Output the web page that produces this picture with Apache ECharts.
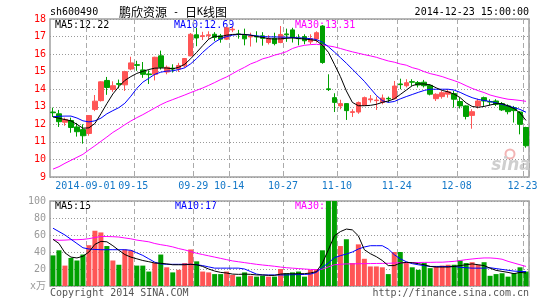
<!DOCTYPE html>
<html><head><meta charset="utf-8">
<script src="https://cdn.jsdelivr.net/npm/echarts@6/dist/echarts.min.js"></script>
<style>html,body{margin:0;padding:0;background:#fff}#c{width:545px;height:300px}</style>
</head><body><div id="c"></div>
<script>
const dates = ['2014-08-22','2014-08-25','2014-08-26','2014-08-27','2014-08-28','2014-08-29',
'2014-09-01','2014-09-02','2014-09-03','2014-09-04','2014-09-05','2014-09-09','2014-09-10','2014-09-11',
'2014-09-15','2014-09-16','2014-09-17','2014-09-18','2014-09-19','2014-09-22','2014-09-23','2014-09-24','2014-09-25','2014-09-26',
'2014-09-29','2014-09-30','2014-10-08','2014-10-09','2014-10-10','2014-10-13',
'2014-10-14','2014-10-15','2014-10-16','2014-10-17','2014-10-20','2014-10-21','2014-10-22','2014-10-23','2014-10-24',
'2014-10-27','2014-10-28','2014-10-29','2014-10-30','2014-10-31','2014-11-03','2014-11-04','2014-11-05','2014-11-07',
'2014-11-10','2014-11-11','2014-11-12','2014-11-13','2014-11-14','2014-11-17','2014-11-18','2014-11-19','2014-11-20','2014-11-21',
'2014-11-24','2014-11-25','2014-11-26','2014-11-27','2014-11-28','2014-12-01','2014-12-02','2014-12-03','2014-12-04','2014-12-05',
'2014-12-08','2014-12-09','2014-12-10','2014-12-11','2014-12-12','2014-12-15','2014-12-16','2014-12-17','2014-12-18','2014-12-19','2014-12-22',
'2014-12-23'];
const tickIndex = [6,14,24,30,39,48,58,68,79];

const openP = [12.70,12.60,12.12,12.22,11.85,11.70,11.48,12.85,13.35,14.50,13.98,14.32,14.25,15.15,15.40,15.10,14.87,14.85,15.90,14.98,
15.20,15.15,15.33,15.90,17.10,17.00,17.05,17.13,17.04,16.85,17.38,17.15,17.08,16.98,17.02,17.04,16.66,16.90,16.66,17.15,
17.38,16.90,17.00,16.70,16.86,17.60,14.02,13.52,13.05,13.18,12.68,12.70,13.08,13.40,13.35,13.25,13.48,13.46,14.30,14.20,
14.43,14.38,14.40,14.22,13.46,13.58,13.72,13.75,13.30,13.05,12.51,13.05,13.52,13.30,13.33,13.18,13.05,12.95,12.70,11.82];
const closeP = [12.66,12.15,12.28,11.82,11.58,11.35,12.50,13.32,14.42,14.10,14.20,14.28,15.00,15.50,15.36,14.85,14.83,15.82,15.25,15.25,
15.15,15.35,15.75,17.13,16.92,17.05,17.10,16.95,16.85,17.50,17.42,17.12,16.87,17.02,16.98,16.90,16.88,16.60,17.12,17.10,
16.95,16.88,16.76,16.88,17.22,15.52,13.98,13.25,13.18,12.78,12.72,13.24,13.52,13.45,13.38,13.50,13.45,14.18,14.26,14.37,
14.40,14.24,14.20,13.72,13.71,13.80,13.85,13.43,13.05,12.45,12.72,13.33,13.33,13.27,13.14,12.82,12.72,12.78,12.00,10.78];
const lowP = [12.42,11.85,11.92,11.52,11.30,10.90,11.35,12.75,13.30,13.68,13.85,14.05,13.90,15.08,15.05,14.65,14.30,14.50,15.12,14.85,
14.95,14.98,15.23,15.88,16.45,16.80,16.85,16.75,16.65,16.80,17.25,16.88,16.50,16.43,16.66,16.48,16.55,16.50,16.62,16.70,
16.66,16.50,16.56,16.56,16.66,15.45,13.90,12.70,12.86,12.25,12.42,12.60,13.05,13.24,12.82,13.14,13.24,13.43,14.00,14.10,
14.19,14.10,14.10,13.65,13.33,13.46,13.52,12.95,12.90,12.28,11.75,12.90,13.05,13.08,13.04,12.76,12.57,12.10,11.43,10.67];
const highP = [12.95,12.82,12.38,12.38,12.08,12.00,12.52,13.67,14.45,14.70,14.45,14.55,15.05,15.85,15.62,15.55,15.08,15.85,16.20,15.35,
15.42,15.50,15.78,17.20,17.50,17.27,17.30,17.25,17.15,17.55,17.55,17.38,17.45,17.22,17.30,17.25,17.08,17.22,17.60,17.45,
17.50,17.13,17.13,17.13,17.30,17.65,14.85,13.77,13.40,13.20,12.86,13.30,13.58,13.67,13.58,13.70,13.58,14.47,14.60,14.57,
14.57,14.47,14.53,14.28,13.77,13.90,14.00,13.90,13.52,13.08,12.86,13.46,13.58,13.43,13.43,13.27,13.14,13.05,12.75,11.86];

const ma5 = [12.42,12.35,12.27,12.20,12.00,11.78,11.80,12.05,12.60,13.18,13.73,14.15,14.50,14.72,14.90,15.02,15.12,15.20,15.21,15.21,
15.16,15.25,15.42,15.74,16.10,16.48,16.85,17.02,17.00,17.08,17.12,17.13,17.12,17.08,17.00,16.95,16.88,16.86,16.87,16.90,
16.92,16.89,16.86,16.82,16.77,16.50,16.10,15.42,14.72,13.90,13.25,13.06,13.06,13.08,13.14,13.25,13.33,13.45,13.70,13.95,
14.20,14.30,14.30,14.25,14.08,13.93,13.85,13.72,13.52,13.22,13.02,12.97,13.02,13.10,13.18,13.18,13.05,12.90,12.65,12.22];
const ma10 = [12.43,12.46,12.47,12.47,12.36,12.20,12.14,12.20,12.35,12.60,12.78,12.95,13.20,13.60,14.05,14.40,14.62,14.85,14.97,15.03,
15.05,15.12,15.22,15.45,15.75,16.10,16.40,16.68,16.88,17.00,17.08,17.12,17.12,17.08,17.04,17.00,16.98,16.98,16.97,16.96,
16.95,16.93,16.91,16.88,16.83,16.68,16.42,16.12,15.80,15.48,15.14,14.80,14.45,14.05,13.65,13.35,13.25,13.30,13.45,13.58,
13.70,13.82,13.93,14.00,14.00,14.00,14.00,13.95,13.82,13.66,13.52,13.42,13.36,13.30,13.22,13.14,13.05,12.95,12.85,12.69];
const ma30 = [9.45,9.59,9.78,9.95,10.12,10.29,10.54,10.78,11.03,11.28,11.54,11.75,11.98,12.19,12.38,12.55,12.74,12.93,13.12,13.28,
13.41,13.54,13.67,13.81,13.94,14.07,14.22,14.38,14.55,14.70,14.89,15.08,15.25,15.44,15.57,15.73,15.82,15.94,16.03,16.14,
16.32,16.43,16.50,16.54,16.56,16.52,16.47,16.41,16.32,16.22,16.13,16.05,15.97,15.90,15.82,15.71,15.61,15.54,15.44,15.37,
15.23,15.14,15.00,14.89,14.81,14.72,14.60,14.49,14.36,14.20,14.05,13.92,13.81,13.67,13.58,13.50,13.43,13.40,13.36,13.31];

const volume = [36,42,24,33,30,37,48,65,63,47,30,25,43,42,24,24,17,27,37,22,
16,19,27,43,29,17,16,14,14,17,13,11,16,12,11,12,11,11,20,15,
16,17,11,19,20,42,100,108,47,55,27,49,32,23,23,22,14,40,40,27,
22,19,27,21,23,24,25,25,30,27,28,25,28,12,14,15,11,15,22,17];
const vma5 = [55,50,39,34,33,35,40,49,52.5,52,47.4,42,37,34,32,30,28.6,27,26.7,26,
25,25,25,25.5,25,23,20,17.6,16,15.3,14,13.7,14,13.7,13,13,12.5,12.5,14,14.5,
14.3,14.5,14.5,15.3,16.9,27,42.7,59,64,67,66,59,42.7,38,34.5,30,24,24,27,27.8,
27.4,26.3,25,23,22.3,22.3,22.3,23,24,25,26,25,24,21,18.4,17.2,16,14.5,16,15.3];
const vma10 = [68,64,60,55,50,45,43.5,43,42.7,42.7,42.7,42.7,42.7,42,39,36,32,28,26,25.5,
25.5,25.5,25.5,25.5,25,24,22.5,21,21,21,21,21,20,17,14,13,13,13,13,13,
13.3,13.4,13.6,14,16,22,27,33.3,35.7,37.6,40,43.5,45.9,47.4,47.4,47.4,43.5,36.8,32,28.6,
26.3,25,24,23,23,23,23,23,22,21.5,21,21,21,21.5,20.5,19.5,18.5,17.5,17.2,17];
const vma30 = [54.5,53.8,54,54.5,54.5,54.8,55.7,57,58.2,58.2,58,57.6,56.5,55.5,54,53,52,50,48.6,47.5,
46,44,42.5,40.5,38.5,37,35.5,34,32.5,31,29.5,28.5,27.5,26.5,25.5,24.7,24,23.2,22.3,21.5,
21,20.5,20,19.5,19.2,19.8,22.5,25,25.5,26,26,26.2,26.3,26.4,26.5,26.6,26.7,27,27.3,27.4,
27.5,27.6,27.8,27.8,28,28,28.5,29,30,31,31.8,32.5,33,33,32.5,31.5,29,27,25,23];

const UP = '#ff5555', DOWN = '#00a000';
const MONO = "'DejaVu Sans Mono', 'Noto Sans CJK SC', monospace";
const CJK = "'Noto Sans CJK SC', sans-serif";

const kData = dates.map((d, i) => [openP[i], closeP[i], lowP[i], highP[i]]);
const volData = volume.map((v, i) => ({
  value: v,
  itemStyle: { color: closeP[i] >= openP[i] ? UP : DOWN }
}));

const isTick = (i) => tickIndex.indexOf(i) >= 0;
const vSplit = { show: true, interval: (i) => isTick(i), lineStyle: { color: '#aaaaaa', type: [5, 3], width: 1 } };
const hSplit = { show: true, lineStyle: { color: '#999999', type: [1, 2], width: 1 } };

function txt(x, y, text, color, align, font) {
  return { type: 'text', x: x, y: y, z: 0, silent: true,
    style: { text: text, fill: color, font: font || ('10px ' + MONO), textAlign: align || 'left', textVerticalAlign: 'middle' } };
}

const chart = echarts.init(document.getElementById('c'), null, { renderer: 'canvas' });
chart.setOption({
  animation: false,
  backgroundColor: '#ffffff',
  grid: [
    { left: 50, top: 19, width: 479, height: 158, show: true, borderColor: '#a0a0a0', borderWidth: 1.5, backgroundColor: 'transparent' },
    { left: 50, top: 201, width: 479, height: 85, show: true, borderColor: '#a0a0a0', borderWidth: 1.5, backgroundColor: 'transparent' }
  ],
  xAxis: [
    { type: 'category', gridIndex: 0, data: dates, boundaryGap: true,
      axisLine: { show: false }, axisTick: { show: false },
      axisLabel: { interval: (i) => isTick(i), color: '#1478c8', fontFamily: MONO, fontSize: 10, margin: 4,
        padding: [0, 7, 0, 0],
        formatter: (v, i) => (i === tickIndex[0] ? v : v.slice(5)) },
      splitLine: vSplit },
    { type: 'category', gridIndex: 1, data: dates, boundaryGap: true,
      axisLine: { show: false }, axisTick: { show: false }, axisLabel: { show: false },
      splitLine: vSplit }
  ],
  yAxis: [
    { type: 'value', gridIndex: 0, min: 9, max: 18, interval: 1,
      axisLine: { show: false }, axisTick: { show: false },
      axisLabel: { color: '#ff0000', fontFamily: MONO, fontSize: 10, margin: 4 },
      splitLine: hSplit },
    { type: 'value', gridIndex: 1, min: 0, max: 100, interval: 20,
      axisLine: { show: false }, axisTick: { show: false },
      axisLabel: { color: '#999999', fontFamily: MONO, fontSize: 10, margin: 4,
        formatter: (v) => (v === 0 ? 'x万' : String(v)) },
      splitLine: hSplit }
  ],
  series: [
    { type: 'candlestick', xAxisIndex: 0, yAxisIndex: 0, data: kData, barWidth: 5, z: 2,
      itemStyle: { color: UP, color0: DOWN, borderColor: UP, borderColor0: DOWN, borderWidth: 1 } },
    { type: 'line', xAxisIndex: 0, yAxisIndex: 0, data: ma30, symbol: 'none', z: 3, lineStyle: { color: '#ff00ff', width: 1 } },
    { type: 'line', xAxisIndex: 0, yAxisIndex: 0, data: ma10, symbol: 'none', z: 4, lineStyle: { color: '#0000ff', width: 1 } },
    { type: 'line', xAxisIndex: 0, yAxisIndex: 0, data: ma5, symbol: 'none', z: 5, lineStyle: { color: '#000000', width: 1 } },
    { type: 'bar', xAxisIndex: 1, yAxisIndex: 1, data: volData, barWidth: 5, z: 2 },
    { type: 'line', xAxisIndex: 1, yAxisIndex: 1, data: vma30, symbol: 'none', z: 3, lineStyle: { color: '#ff00ff', width: 1 } },
    { type: 'line', xAxisIndex: 1, yAxisIndex: 1, data: vma10, symbol: 'none', z: 4, lineStyle: { color: '#0000ff', width: 1 } },
    { type: 'line', xAxisIndex: 1, yAxisIndex: 1, data: vma5, symbol: 'none', z: 5, lineStyle: { color: '#000000', width: 1 } }
  ],
  graphic: [
    txt(50, 12, 'sh600490', '#000'),
    { type: 'text', x: 119, y: 12, z: 0, silent: true,
      style: { text: '{c|鹏欣资源}{m| - }{c|日}{m|K}{c|线图}', textVerticalAlign: 'middle', fill: '#000',
        rich: { c: { font: '12px ' + CJK, fill: '#000' }, m: { font: '10px ' + MONO, fill: '#000' } } } },
    txt(529, 12, '2014-12-23 15:00:00', '#000', 'right'),
    txt(55, 25, 'MA5:12.22', '#000000'),
    txt(174, 25, 'MA10:12.69', '#0000ff'),
    txt(295, 25, 'MA30:13.31', '#ff00ff'),
    txt(55, 206.5, 'MA5:15', '#000000'),
    txt(175, 206.5, 'MA10:17', '#0000ff'),
    txt(295, 206.5, 'MA30:23', '#ff00ff'),
    txt(50, 293, 'Copyright 2014 SINA.COM', '#555555'),
    txt(529, 293, 'http://finance.sina.com.cn', '#555555', 'right'),
    { type: 'circle', z: 0, silent: true, shape: { cx: 510, cy: 154, r: 4.5 },
      style: { fill: 'none', stroke: '#f3b4b4', lineWidth: 2 } },
    txt(511, 166, 'sina', '#cfcfcf', 'center', "italic bold 17px 'DejaVu Sans', sans-serif")
  ]
});
</script></body></html>
